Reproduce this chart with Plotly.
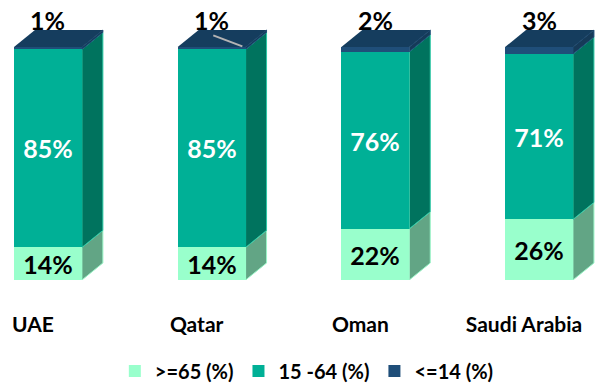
import plotly.graph_objects as go

# Population by age group, share of total (%)
countries = ["UAE", "Qatar", "Oman", "Saudi Arabia"]
age_65_plus = [14, 14, 22, 26]
age_15_64 = [85, 85, 76, 71]
age_0_14 = [1, 1, 2, 3]
series_names = [">=65 (%)", "15 -64 (%)", "<=14 (%)"]

# Styling
front_colors = ["#99FFCC", "#00B096", "#1F4E79"]
side_colors = ["#62A585", "#00735E", "#163A58"]
edge_colors = ["#9AF5C8", "#2CC9A6", "#1F4E79"]
top_face_color = "#153D5E"
label_colors = ["black", "white", "black"]
font_family = "Lato, 'Open Sans', sans-serif"

W, H = 595, 383
plot_bottom_px = 280
bar_width = 0.415          # category units
depth_dx = 0.128           # category units for the 3D extrusion
depth_dy = 7.3             # percentage units for the 3D extrusion
x_range = [-0.293, 3.342]
y_range = [0, 120.2]

series = [age_65_plus, age_15_64, age_0_14]
xs = list(range(len(countries)))

fig = go.Figure()
for name, vals, fc, lc in zip(series_names, series, front_colors, label_colors):
    is_top = name == series_names[-1]
    fig.add_trace(go.Bar(
        name=name,
        x=xs,
        y=vals,
        width=bar_width,
        marker=dict(color=fc, line=dict(width=0)),
        text=None if is_top else [f"{v}%" for v in vals],
        textposition="none" if is_top else "inside",
        insidetextanchor="middle",
        textangle=0,
        textfont=dict(family=font_family, size=25, color=lc, weight="bold"),
        hoverinfo="skip",
    ))

# 3D side faces and top faces, computed from the stacked values
shapes = []
for i in xs:
    base = 0
    right = i + bar_width / 2
    left = i - bar_width / 2
    for vals, sc, ec in zip(series, side_colors, edge_colors):
        top = base + vals[i]
        path = (f"M {right} {base} L {right + depth_dx} {base + depth_dy} "
                f"L {right + depth_dx} {top + depth_dy} L {right} {top} Z")
        shapes.append(dict(type="path", path=path, xref="x", yref="y",
                           fillcolor=sc, line=dict(width=1, color=ec), layer="below"))
        base = top
    path = (f"M {left} {base} L {left + depth_dx} {base + depth_dy} "
            f"L {right + depth_dx} {base + depth_dy} L {right} {base} Z")
    shapes.append(dict(type="path", path=path, xref="x", yref="y",
                       fillcolor=top_face_color, line=dict(width=0), layer="below"))

# Leader line from the Qatar top label down to its segment
q = countries.index("Qatar")
q_total = age_65_plus[q] + age_15_64[q] + age_0_14[q]
shapes.append(dict(type="line", xref="x", yref="y",
                   x0=q + 0.01, y0=q_total + 5.0,
                   x1=q + bar_width / 2 - 0.02, y1=q_total + 0.3,
                   line=dict(color="#B4B4B4", width=2)))

# Labels for the thin top segment, placed above each column
annotations = []
for i in xs:
    total = age_65_plus[i] + age_15_64[i] + age_0_14[i]
    annotations.append(dict(
        x=i, y=total, xref="x", yref="y", text=f"{age_0_14[i]}%",
        showarrow=False, yanchor="middle", yshift=27,
        font=dict(family=font_family, size=25, color="black", weight="bold"),
    ))

fig.update_layout(
    width=W, height=H,
    barmode="stack",
    bargap=0,
    paper_bgcolor="white",
    plot_bgcolor="white",
    margin=dict(l=0, r=0, t=0, b=H - plot_bottom_px, autoexpand=False),
    shapes=shapes,
    annotations=annotations,
    uniformtext=dict(minsize=25, mode="show"),
    showlegend=True,
    legend=dict(
        orientation="h",
        traceorder="normal",
        x=0.193, xanchor="left",
        y=-0.325, yanchor="middle",
        font=dict(family=font_family, size=20, color="black", weight="bold"),
        itemclick=False,
    ),
    xaxis=dict(
        range=x_range,
        tickvals=xs,
        ticktext=countries,
        showgrid=False, zeroline=False, showline=False, ticks="",
        ticklabelstandoff=30,
        ticklabelshift=-15,
        tickfont=dict(family=font_family, size=21, color="black", weight="bold"),
    ),
    yaxis=dict(range=y_range, visible=False, showgrid=False, zeroline=False),
)

fig.write_html("out.html")
